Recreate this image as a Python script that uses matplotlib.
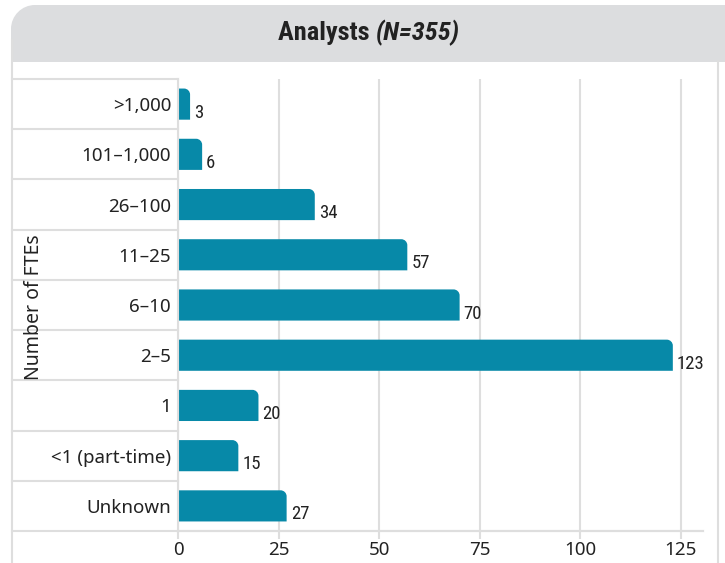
import matplotlib
matplotlib.use("Agg")
import matplotlib.pyplot as plt
from matplotlib.path import Path
from matplotlib.patches import PathPatch
import matplotlib.transforms as mtransforms
from matplotlib import font_manager

categories = [">1,000", "101\u20131,000", "26\u2013100", "11\u201325", "6\u201310", "2\u20135", "1", "<1 (part-time)", "Unknown"]
values = [3, 6, 34, 57, 70, 123, 20, 15, 27]
xticks = [0, 25, 50, 75, 100, 125]
title_main = "Analysts "
title_n = "(N=355)"
ylabel = "Number of FTEs"

BAR = "#0789a8"
GRID = "#dedede"
TXT = "#222222"

names = {f.name for f in font_manager.fontManager.ttflist}
cond = "Roboto"
for cand in ["Roboto Condensed", "Noto Sans Condensed", "Open Sans Condensed",
             "Liberation Sans Narrow", "Fira Sans Condensed", "DejaVu Sans Condensed"]:
    if cand in names:
        cond = cand
        break
plt.rcParams['font.family'] = ['Noto Sans', 'DejaVu Sans']

W, H = 725, 563
fig = plt.figure(figsize=(W/100, H/100), dpi=100)

def fx(px): return px / W
def fy(py): return 1 - py / H

# panel border & header
fig.add_artist(plt.Line2D([fx(12), fx(12)], [fy(40), 0], color=GRID, lw=1.5))
fig.add_artist(plt.Line2D([fx(718), fx(718)], [fy(62), 0], color=GRID, lw=1.5))
R = 24
k = 0.5523
L, T, B, Rt = 11, 5, 62, 730
hv = [(fx(L), fy(B)), (fx(L), fy(T + R)),
      (fx(L), fy(T + R - k * R)), (fx(L + R - k * R), fy(T)), (fx(L + R), fy(T)),
      (fx(Rt), fy(T)), (fx(Rt), fy(B)), (fx(L), fy(B))]
hc = [Path.MOVETO, Path.LINETO, Path.CURVE4, Path.CURVE4, Path.CURVE4,
      Path.LINETO, Path.LINETO, Path.CLOSEPOLY]
fig.add_artist(PathPatch(Path(hv, hc), transform=fig.transFigure,
                         facecolor="#dcdddf", edgecolor="none"))
fig.text(fx(376), fy(33), title_main, ha="right", va="center", fontsize=19,
         fontweight="bold", family=[cond, 'DejaVu Sans'], color=TXT)
fig.text(fx(376), fy(33), title_n, ha="left", va="center", fontsize=19,
         fontweight="bold", style="italic", family=[cond, 'DejaVu Sans'], color=TXT)

ax = fig.add_axes([fx(178), fy(531), fx(703) - fx(178), fy(79) - fy(531)])
y = list(range(len(categories)))
bars = ax.barh(y, values, height=0.62, color=BAR)
ax.set_ylim(len(categories) - 0.5, -0.5)
ax.set_xlim(0, 130.5)
ax.set_yticks(y)
ax.set_yticklabels(categories, fontsize=13.5, color=TXT)
ax.set_xticks(xticks)
ax.set_xticklabels([str(t) for t in xticks], fontsize=13.5, color=TXT)
ax.tick_params(axis="y", length=0, pad=5)
ax.tick_params(axis="x", length=6, color=GRID, width=1.5, pad=1)
for s in ["top", "right"]:
    ax.spines[s].set_visible(False)
ax.spines["left"].set_color(GRID)
ax.spines["left"].set_linewidth(1.5)
ax.spines["bottom"].set_color(GRID)
ax.spines["bottom"].set_linewidth(1.5)
ax.grid(axis="x", color=GRID, lw=1.5)
ax.set_axisbelow(True)

# rounded top-right corners
fig.canvas.draw()
px_per_x = ax.transData.transform((1, 0))[0] - ax.transData.transform((0, 0))[0]
px_per_y = abs(ax.transData.transform((0, 1))[1] - ax.transData.transform((0, 0))[1])
r_px = 6
for b, v in zip(bars, values):
    x0, yc, w, h = b.get_x(), b.get_y(), b.get_width(), b.get_height()
    top = yc
    bot = yc + h
    rx = min(r_px / px_per_x, w)
    ry = r_px / px_per_y
    verts = [(x0, bot), (x0, top), (x0 + w - rx, top),
             (x0 + w - rx + k * rx, top), (x0 + w, top + ry - k * ry), (x0 + w, top + ry),
             (x0 + w, bot), (x0, bot)]
    codes = [Path.MOVETO, Path.LINETO, Path.LINETO, Path.CURVE4, Path.CURVE4, Path.CURVE4,
             Path.LINETO, Path.CLOSEPOLY]
    ax.add_patch(PathPatch(Path(verts, codes), facecolor=BAR, edgecolor="none"))
    b.set_visible(False)
    ax.text(v + 1.0, yc + h / 2 + 0.17, str(v), ha="left", va="center", fontsize=13.5,
            family=[cond, 'DejaVu Sans'], color=TXT)

# row separators in label area
blend = mtransforms.blended_transform_factory(ax.transAxes, ax.transData)
xl = (12 - 178) / (703 - 178)
for i in range(len(categories)):
    yy = i - 0.5
    ax.plot([xl, 0], [yy, yy], transform=blend, color=GRID, lw=1.5, clip_on=False)
ax.plot([xl, 1], [len(categories) - 0.5] * 2, transform=blend, color=GRID, lw=1.5, clip_on=False)

fig.text(fx(34), fy(307), ylabel, rotation=90, ha="center", va="center", fontsize=14, color=TXT)

fig.savefig("out.png", dpi=100)
